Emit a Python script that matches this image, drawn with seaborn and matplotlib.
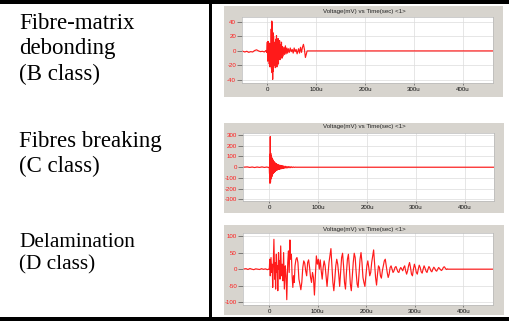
import numpy as np
import pandas as pd
import matplotlib
matplotlib.use("Agg")
import matplotlib.pyplot as plt
from matplotlib.patches import Rectangle
import seaborn as sns

# ---------------- data ----------------
row_labels = ["Fibre-matrix\ndebonding\n(B class)",
              "Fibres breaking\n(C class)",
              "Delamination\n(D class)"]
panel_title = "Voltage(mV) vs Time(sec) <1>"
x_ticks = [0, 100, 200, 300, 400]
x_tick_labels = ["0", "100u", "200u", "300u", "400u"]
b_yticks = [-40, -20, 0, 20, 40]
c_yticks = [-300, -200, -100, 0, 100, 200, 300]
d_yticks = [-100, -50, 0, 50, 100]

# B class waveform (time in microseconds, voltage in mV), turning points
b_time = [-52, -46, -42, -38, -34, -30, -26, -22, -18, -14, -10, -6, -3, -1,
          0, 0.8, 1.6, 2.4, 3.2, 4.0, 4.8, 5.6, 6.4, 7.2, 8.0, 8.6, 9.2, 9.8,
          10.4, 11.0, 11.6, 12.2, 12.8, 13.4, 14.0, 14.8, 15.6, 16.4, 17.2,
          18.0, 18.8, 19.6, 20.4, 21.2, 22.0, 22.8, 23.6, 24.4, 25.2, 26.0,
          27, 28, 29, 30, 31, 32.5, 34, 35.5, 37, 38.5, 40, 41.5, 43, 45, 47,
          49, 51, 53, 55, 57, 59, 61, 64, 66, 68, 70, 72, 74, 76, 78, 80,
          81.5, 462]
b_volt = [0, -1.5, -0.5, -2, -1, -1.5, 0.5, 1.5, 0, -1, -0.5, -1.5, 0.5, -2,
          12, -14, 13, -12, 11, -18, 10, -22, 9, -10, 30, -25, 41, -30,
          38, -39, 25, -28, 20, -12, 8, -20, 12, -23, 16,
          -10, 21, -22, 14, -8, 17, -18, 10, -6, 14, -12,
          8, -8, 12, -10, 6, -7, 5, -5, 7, -4, 4, -3, 3, -2, 4,
          -1, 2, -3, 4, -1, 2, -4, 3, -3, 5, -2, 5, 9, 2, -9, -4,
          0, 0]

# C class waveform
c_time = [-54, -45, -40, -35, -30, -25, -20, -15, -10, -5, -1,
          0, 0.5, 1.0, 1.5, 2.0, 2.5, 3.0, 3.5, 4.0, 4.5, 5.0, 5.5, 6.0, 6.5,
          7.0, 7.5, 8.0, 8.5, 9.0, 9.5, 10, 10.6, 11.2, 11.8, 12.4, 13, 13.6,
          14.2, 14.8, 15.4, 16, 17, 18, 19, 20, 21, 22, 23, 24, 25, 26, 27,
          28, 29, 30, 31.5, 33, 34.5, 36, 37.5, 39, 40.5, 42, 43.5, 45, 47,
          49, 51, 53, 55, 460]
c_volt = [0, 3, -2, 2, -3, 2, -2, 3, -2, 2, -3,
          0, -60, 120, -150, 285, -140, 130, -110, 110, -95, 90, -85, 80, -70,
          72, -60, 62, -55, 52, -48, 50, -45, 42, -40, 38, -35, 34,
          -30, 30, -28, 27, -24, 24, -21, 20, -19, 18, -16, 16, -14, 14, -12,
          12, -11, 10, -9, 9, -8, 7, -6, 6, -5, 5, -4, 4, -3,
          3, -2, 1, 0, 0]

# D class waveform
d_time = [-55, -48, -44, -40, -36, -32, -28, -24, -20, -16, -12, -8, -4, -1,
          0, 1, 2, 3.5, 5, 6, 7, 8.5, 9.5, 11, 12, 13, 14.5, 15.5, 16.5, 17.5,
          19, 20, 21, 22, 23.5, 25, 26.5, 28, 29.5, 31, 33, 34.5, 36, 38,
          39.5, 41, 42.5, 44, 45.5, 47, 48.5, 50, 51.5, 53, 55, 57, 59, 61,
          63, 65, 67, 69, 71, 73, 75, 77, 79, 81, 83, 85, 87, 89, 91, 93, 95,
          97, 99, 101, 103, 105, 107, 109, 111, 113, 115, 117, 119, 121, 123,
          125, 127, 129, 131, 133, 135, 137, 139, 141, 143, 145, 147, 149,
          151, 153, 155, 157, 159, 161, 163, 165, 167, 169, 171, 173, 175,
          177, 179, 181, 183, 185, 187, 189, 191, 193, 195, 197, 199, 201,
          203, 205, 207, 209, 211, 213, 215, 217, 219, 221, 223, 225, 227,
          229, 231, 233, 235, 237, 239, 241, 243, 245, 247, 249, 251, 253,
          255, 257, 259, 261, 263, 265, 267, 269, 271, 273, 275, 277, 279,
          281, 283, 285, 287, 289, 291, 293, 295, 297, 299, 301, 303, 305,
          307, 309, 311, 313, 315, 317, 319, 321, 323, 325, 327, 329, 331,
          333, 335, 337, 339, 341, 343, 345, 347, 349, 351, 353, 355, 357,
          359, 361, 363, 365, 367, 368, 463]
d_volt = [0, 1.5, -1, 2, 0, -1.5, 1, 0, -1, 1.5, -0.5, 1, -1.5, 0,
          0, 30, -20, 35, -10, 15, -55, 30, 90, -30, 20, -60, 45, -10, 10, -65,
          50, 0, 25, -30, 70, -20, 15, -35, 50, -60, 10, -20, -92, 20,
          55, -10, 88, 30, 45, -20, -55, -20, -40, 10, 30, 35, 20, -30,
          -45, -62, -40, 5, 25, 18, -5, -20, 20, 28, 5, -25, -40, -10, -25, -78, -20,
          40, 15, 30, 0, 28, -5, -30, 5, 25, 10, -20, -52, -15, 20,
          40, 62, 10, -40, -65, -30, 10, 30, 15, -15, -52, -10, 35,
          48, 10, -40, -60, -10, 30, 45, 5, -45, -65, -20, 20, 48,
          35, -10, -45, -55, -10, 30, 50, 20, -25, -40, -52, -20, 10,
          25, 5, -20, -10, 20, 40, 58, 15, -25, -48, -15, 10, 5,
          -20, -27, -5, 10, 25, 30, 10, -10, -25, -15, 5, 10, 0,
          -10, -5, 5, 8, 0, -8, -10, 0, 5, 0, -5, 5, 10,
          -5, -15, -5, 10, 20, 5, -15, -20, 0, 15, 5, -10, -15,
          0, 12, 5, -8, -12, 0, 10, 3, -6, -10, 0, 8, 3,
          -5, -8, 0, 6, 2, -4, -6, 0, 5, 2, -2, -4, 0,
          6, 7, 2, -1, 1, 0, 0]

panels = [
    dict(t=b_time, v=b_volt, yticks=b_yticks,
         box=(242, 17, 493, 83), frame=(224, 6, 503, 97), title_y=11,
         xlim=(-51.8, 462), ylim=(-44, 46.5)),
    dict(t=c_time, v=c_volt, yticks=c_yticks,
         box=(243, 133, 494, 201), frame=(224, 123, 504, 213), title_y=127,
         xlim=(-53.8, 460), ylim=(-315, 319)),
    dict(t=d_time, v=d_volt, yticks=d_yticks,
         box=(243, 233, 493, 305), frame=(224, 225, 504, 315), title_y=230,
         xlim=(-54.2, 461), ylim=(-108, 109)),
]

# ---------------- figure ----------------
sns.set_style("white")
plt.rcParams['font.family'] = ['Liberation Sans', 'DejaVu Sans']

W, H = 510, 321
fig = plt.figure(figsize=(W / 100, H / 100), dpi=100)
fig.patch.set_facecolor("white")


def fbox(x0, y0, x1, y1):
    return [x0 / W, 1 - y1 / H, (x1 - x0) / W, (y1 - y0) / H]


def add_rect(x0, y0, x1, y1, color, z=0):
    l, b, w, h = fbox(x0, y0, x1, y1)
    fig.patches.append(Rectangle((l, b), w, h, transform=fig.transFigure,
                                 facecolor=color, edgecolor="none", zorder=z))


# table lines
add_rect(0, 0, W, 4, "black", 5)
add_rect(0, 317, W, 321, "black", 5)
add_rect(209.5, 0, 212, 321, "black", 5)

frame_col = "#d7d4ce"
red = "#ff1a1a"

label_y = [13, 131, 233]
label_size = [16.5, 16.5, 15.3]
label_ls = [1.27, 1.27, 1.24]
for lab, y, fs, ls in zip(row_labels, label_y, label_size, label_ls):
    fig.text(19 / W, 1 - y / H, lab, ha="left", va="top",
             fontsize=fs, family="Liberation Serif", linespacing=ls,
             color="black")

for p in panels:
    add_rect(*p["frame"], frame_col, 1)
    fig.text(364 / W, 1 - p["title_y"] / H, panel_title, ha="center",
             va="center", fontsize=4.4, color="#222222")
    ax = fig.add_axes(fbox(*p["box"]))
    ax.set_facecolor("white")
    ax.set_zorder(3)
    df = pd.DataFrame({"time": p["t"], "volt": p["v"]})
    sns.lineplot(data=df, x="time", y="volt", ax=ax, sort=False,
                 estimator=None, color=red, linewidth=0.85)
    ax.set_xlim(*p["xlim"])
    ax.set_ylim(*p["ylim"])
    ax.set_xticks(x_ticks)
    ax.set_xticklabels(x_tick_labels)
    ax.set_yticks(p["yticks"])
    ax.set_yticklabels([str(v) for v in p["yticks"]])
    ax.set_xlabel("")
    ax.set_ylabel("")
    ax.grid(True, color="#dcdcdc", linewidth=0.5)
    ax.set_axisbelow(True)
    ax.tick_params(axis="y", direction="out", length=3.5, width=0.5,
                   color="#555555", labelsize=4.4, labelcolor=red, pad=0.8,
                   left=True)
    ax.tick_params(axis="x", direction="out", length=1.5, width=0.5,
                   color="#555555", labelsize=4.4, labelcolor="#111111",
                   pad=1.5, bottom=True)
    for s in ax.spines.values():
        s.set_color("#b8b8b8")
        s.set_linewidth(0.5)

fig.savefig("out.png", dpi=100, facecolor="white")
